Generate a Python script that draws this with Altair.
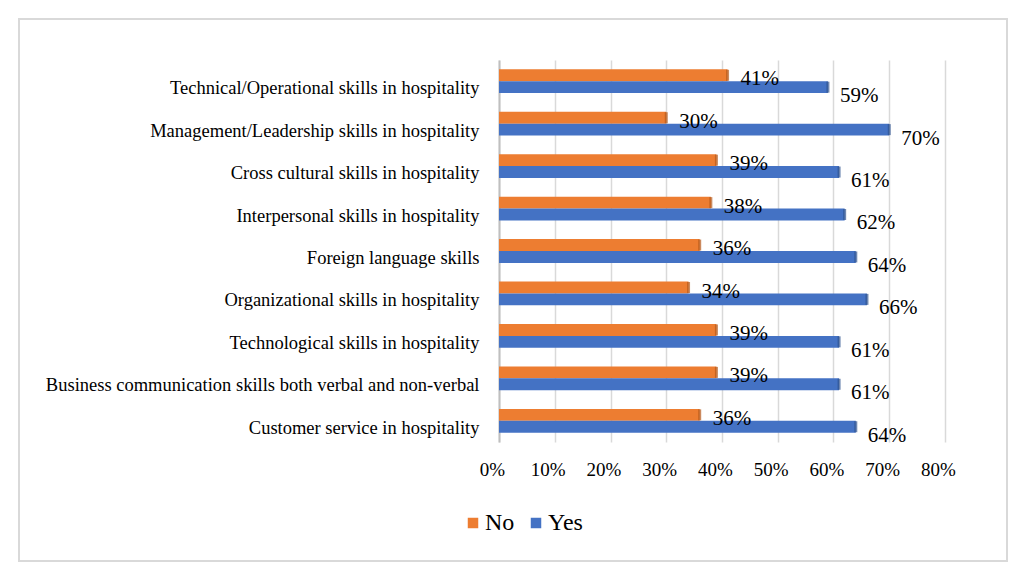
import altair as alt
import pandas as pd

categories = [
    "Technical/Operational skills in hospitality",
    "Management/Leadership skills in hospitality",
    "Cross cultural skills in hospitality",
    "Interpersonal skills in hospitality",
    "Foreign language skills",
    "Organizational skills in hospitality",
    "Technological skills in hospitality",
    "Business communication skills both verbal and non-verbal",
    "Customer service in hospitality",
]
no_values = [0.41, 0.30, 0.39, 0.38, 0.36, 0.34, 0.39, 0.39, 0.36]
yes_values = [0.59, 0.70, 0.61, 0.62, 0.64, 0.66, 0.61, 0.61, 0.64]
series = ["No", "Yes"]
colors = ["#ED7D31", "#4472C4"]
edge_colors = ["#B5591A", "#2F528F"]

rows = []
for c, n, y in zip(categories, no_values, yes_values):
    rows.append({"cat": c, "series": "No", "value": n})
    rows.append({"cat": c, "series": "Yes", "value": y})
df = pd.DataFrame(rows)

FONT = "Liberation Serif"

yscale = alt.Scale(domain=categories, paddingInner=0.44, paddingOuter=0.22)
yoff = alt.YOffset("series:N", scale=alt.Scale(domain=series, paddingInner=0, paddingOuter=0))
xscale = alt.Scale(domain=[0, 0.8], nice=False)

base = alt.Chart(df)

frame = alt.Chart(pd.DataFrame({"a": [0]})).mark_rect(
    fill=None, stroke="#D9D9D9", strokeWidth=2
).encode(
    x=alt.value(-480), x2=alt.value(508), y=alt.value(-41), y2=alt.value(501)
)

bars = base.mark_bar().encode(
    x=alt.X("value:Q", scale=xscale,
            axis=alt.Axis(format=".0%", values=[0, .1, .2, .3, .4, .5, .6, .7, .8],
                          title=None, domain=False, ticks=False, grid=True,
                          gridColor="#D9D9D9", gridWidth=1.5, labelFlush=False,
                          labelFont=FONT, labelFontSize=19, labelColor="#000000",
                          labelPadding=18, labelOffset=-7)),
    y=alt.Y("cat:N", scale=yscale, sort=categories,
            axis=alt.Axis(title=None, ticks=False, domain=True, domainColor="#BFBFBF",
                          domainWidth=2, labelFont=FONT, labelFontSize=18.5,
                          labelColor="#000000", labelPadding=20, labelLimit=600,
                          labelOffset=7)),
    yOffset=yoff,
    color=alt.Color("series:N", scale=alt.Scale(domain=series, range=colors),
                    legend=alt.Legend(title=None, orient="none", direction="horizontal",
                                      legendX=-38, legendY=451, symbolType="square",
                                      symbolSize=110, symbolStrokeWidth=0,
                                      labelFont=FONT, labelFontSize=24,
                                      labelColor="#000000", labelOffset=0,
                                      columnPadding=9)),
)

caps = base.mark_tick(orient="vertical", thickness=3, size=11).encode(
    x=alt.X("value:Q", scale=xscale),
    y=alt.Y("cat:N", scale=yscale, sort=categories),
    yOffset=yoff,
    color=alt.Color("series:N", scale=alt.Scale(domain=series, range=edge_colors), legend=None),
)

no_labels = base.transform_filter(alt.datum.series == "No").mark_text(
    align="left", baseline="middle", dx=13, dy=4, font=FONT, fontSize=21, color="#000000"
).encode(
    x=alt.X("value:Q", scale=xscale),
    y=alt.Y("cat:N", scale=yscale, sort=categories),
    yOffset=yoff,
    text=alt.Text("value:Q", format=".0%"),
)

yes_labels = base.transform_filter(alt.datum.series == "Yes").mark_text(
    align="left", baseline="middle", dx=12, dy=9, font=FONT, fontSize=21, color="#000000"
).encode(
    x=alt.X("value:Q", scale=xscale),
    y=alt.Y("cat:N", scale=yscale, sort=categories),
    yOffset=yoff,
    text=alt.Text("value:Q", format=".0%"),
)

chart = alt.layer(frame, bars, caps, no_labels, yes_labels).resolve_scale(
    color="independent"
).properties(
    width=446, height=382,
    autosize=alt.AutoSizeParams(type="none"),
    padding={"left": 499, "top": 60, "right": 80, "bottom": 136},
    background="white",
).configure_view(stroke=None)

chart.save("out.html", embed_options={"renderer": "svg", "actions": False})
